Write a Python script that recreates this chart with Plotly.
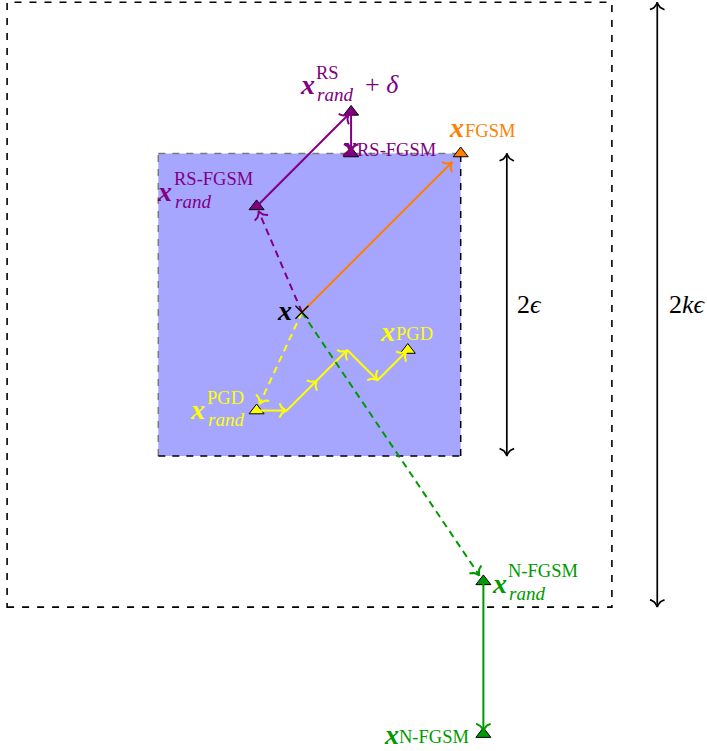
import numpy as np
import plotly.graph_objects as go

# ---------------------------------------------------------------------------
# Geometry of the sketch (drawing units, origin at the centre of the ε-ball)
# ---------------------------------------------------------------------------
EPS = 2.0          # half side of the ε-box
K = 2              # the outer box has half side k·ε

x_clean = (-0.1, -0.1)
x_fgsm = (2.0, 2.0)

rs_rand = (-0.7, 1.3)
rs_step = (0.55, 2.55)
rs_fgsm = (0.55, 2.0)

pgd_x = [-0.7, -0.3, 0.1, 0.5, 0.9, 1.3]
pgd_y = [-1.4, -1.4, -1.0, -0.6, -1.0, -0.6]

nfgsm_rand = (2.3, -3.66)
nfgsm = (2.3, -5.68)

dim_eps_x = 2.61
dim_keps_x = 4.6

# ---------------------------------------------------------------------------
# Canvas
# ---------------------------------------------------------------------------
W, H = 707, 751
PX = 75.6                       # pixels per drawing unit
ORIGIN = (309.5, 304.7)         # pixel position of the origin
XR = [-ORIGIN[0] / PX, (W - ORIGIN[0]) / PX]
YR = [-(H - ORIGIN[1]) / PX, ORIGIN[1] / PX]

PURPLE = "#800080"
ORANGE = "#ff8000"
YELLOW = "#ffff00"
GREEN = "#009900"
FILL = "#a6a6ff"
SERIF = "Liberation Serif"

fig = go.Figure()


def unit(a, b):
    d = np.array(b, float) - np.array(a, float)
    return d / np.hypot(*d)


def tip(end, d, color, width):
    """Curved 'to'-style arrow tip with its point at `end`, pointing along d."""
    n = np.array([-d[1], d[0]])
    ctrl = np.array([[0, 0], [-1.0, 0.27], [-2.2, 1.0], [-2.6, 2.6]]) * 2.8
    t = np.linspace(0, 1, 14)[:, None]
    b = ((1 - t) ** 3 * ctrl[0] + 3 * (1 - t) ** 2 * t * ctrl[1]
         + 3 * (1 - t) * t ** 2 * ctrl[2] + t ** 3 * ctrl[3])
    e = np.array(end, float)
    arm1 = e + (b[:, :1] * d + b[:, 1:] * n) / PX
    arm2 = e + (b[:, :1] * d - b[:, 1:] * n) / PX
    pts = np.vstack([arm1[::-1], arm2[1:]])
    fig.add_trace(go.Scatter(x=pts[:, 0], y=pts[:, 1], mode="lines",
                             line=dict(color=color, width=width),
                             hoverinfo="skip"))


def arrow(a, b, color, dash=None, shorten=0.0, width=2.0, both=False):
    d = unit(a, b)
    end = np.array(b, float) - d * shorten / PX
    start = np.array(a, float)
    fig.add_trace(go.Scatter(x=[start[0], end[0]], y=[start[1], end[1]],
                             mode="lines",
                             line=dict(color=color, width=width, dash=dash),
                             hoverinfo="skip"))
    tip(end, d, color, width)
    if both:
        tip(start, -d, color, width)


# ---------------------------------------------------------------------------
# Boxes
# ---------------------------------------------------------------------------
R = K * EPS
fig.add_shape(type="rect", x0=-R, y0=-R, x1=R, y1=R, layer="below",
              line=dict(color="black", width=1.6, dash="7px,8px"))
fig.add_shape(type="rect", x0=-EPS, y0=-EPS, x1=EPS, y1=EPS, layer="below",
              line=dict(width=0), fillcolor=FILL)
for (x0, y0, x1, y1), col in [((-EPS, EPS, EPS, EPS), "#7a7a7a"),
                              ((-EPS, -EPS, -EPS, EPS), "#7a7a7a"),
                              ((-EPS, -EPS, EPS, -EPS), "black"),
                              ((EPS, -EPS, EPS, EPS), "black")]:
    fig.add_shape(type="line", x0=x0, y0=y0, x1=x1, y1=y1, layer="below",
                  line=dict(color=col, width=1.5, dash="7px,7px"))

# ---------------------------------------------------------------------------
# Points
# ---------------------------------------------------------------------------
tri_pts = [(x_fgsm, ORANGE), (rs_rand, PURPLE), (rs_step, PURPLE),
           (rs_fgsm, PURPLE), ((pgd_x[0], pgd_y[0]), YELLOW),
           ((pgd_x[-1], pgd_y[-1]), YELLOW), (nfgsm_rand, GREEN),
           (nfgsm, GREEN)]
fig.add_trace(go.Scatter(
    x=[p[0] for p, _ in tri_pts], y=[p[1] for p, _ in tri_pts],
    mode="markers", hoverinfo="skip",
    marker=dict(symbol="triangle-up", size=13,
                color=[c for _, c in tri_pts],
                line=dict(color="black", width=1))))

# ---------------------------------------------------------------------------
# Attack trajectories
# ---------------------------------------------------------------------------
DASH = "7px,5px"
arrow(x_clean, x_fgsm, ORANGE, shorten=12)

arrow(x_clean, rs_rand, PURPLE, dash=DASH, shorten=5)
arrow(rs_rand, rs_step, PURPLE, shorten=3)
arrow(rs_step, rs_fgsm, PURPLE, shorten=2)

arrow(x_clean, (pgd_x[0], pgd_y[0]), YELLOW, dash=DASH, shorten=7)
for i in range(len(pgd_x) - 1):
    arrow((pgd_x[i], pgd_y[i]), (pgd_x[i + 1], pgd_y[i + 1]), YELLOW,
          shorten=2 if i == len(pgd_x) - 2 else 0)

arrow(x_clean, nfgsm_rand, GREEN, dash=DASH, shorten=7)
arrow(nfgsm_rand, nfgsm, GREEN, shorten=3)

# dimension arrows
arrow((dim_eps_x, -EPS), (dim_eps_x, EPS), "black", width=1.7, both=True)
arrow((dim_keps_x, -R), (dim_keps_x, R), "black", width=1.7, both=True)

# clean input
fig.add_trace(go.Scatter(x=[x_clean[0]], y=[x_clean[1]], mode="markers",
                         hoverinfo="skip",
                         marker=dict(symbol="x-thin", size=13,
                                     line=dict(color="black", width=1.2))))

# ---------------------------------------------------------------------------
# Labels
# ---------------------------------------------------------------------------
def text(pt, dx, dy, s, color, size, anchor="left", bold=False, italic=False):
    fig.add_annotation(x=pt[0], y=pt[1], xref="x", yref="y", text=s,
                       showarrow=False, xanchor=anchor, yanchor="middle",
                       xshift=dx, yshift=-dy,
                       font=dict(family=SERIF, size=size, color=color,
                                 weight="bold" if bold else "normal",
                                 style="italic" if italic else "normal"))


def label(pt, gx, gy, color, sup=None, sub=None, extra=None):
    text(pt, gx, gy, "x", color, 28, anchor="center", bold=True, italic=True)
    if sup is not None:
        text(pt, gx + 7, gy - 12, sup, color, 18.5)
        text(pt, gx + 8, gy + 10, "rand", color, 19, italic=True)
    if sub is not None:
        text(pt, gx + 6, gy + 3, sub, color, 18.5)
    if extra is not None:
        text(pt, gx + 56, gy, extra, color, 26)


label(x_clean, -17, -2, "black")
label(rs_step, -44, -27, PURPLE, sup="RS", extra="+ <i>δ</i>")
label(rs_fgsm, -2, -7, PURPLE, sub="RS-FGSM")
label(x_fgsm, -4, -26, ORANGE, sub="FGSM")
label(rs_rand, -92, -15, PURPLE, sup="RS-FGSM")
label((pgd_x[-1], pgd_y[-1]), -20, -19, YELLOW, sub="PGD")
label((pgd_x[0], pgd_y[0]), -59, -1, YELLOW, sup="PGD")
label(nfgsm_rand, 16, 2, GREEN, sup="N-FGSM")
label(nfgsm, -92, 0, GREEN, sub="N-FGSM")

text((dim_eps_x, 0), 23, 0, "2<i>ϵ</i>", "black", 26, anchor="center")
text((dim_keps_x, 0), 30, 0, "2<i>kϵ</i>", "black", 26, anchor="center")

# ---------------------------------------------------------------------------
fig.update_layout(
    width=W, height=H, autosize=False,
    margin=dict(l=0, r=0, t=0, b=0),
    paper_bgcolor="white", plot_bgcolor="white",
    showlegend=False,
    xaxis=dict(range=XR, visible=False, fixedrange=True),
    yaxis=dict(range=YR, visible=False, fixedrange=True),
)
fig.write_html("out.html", config={"displayModeBar": False})
